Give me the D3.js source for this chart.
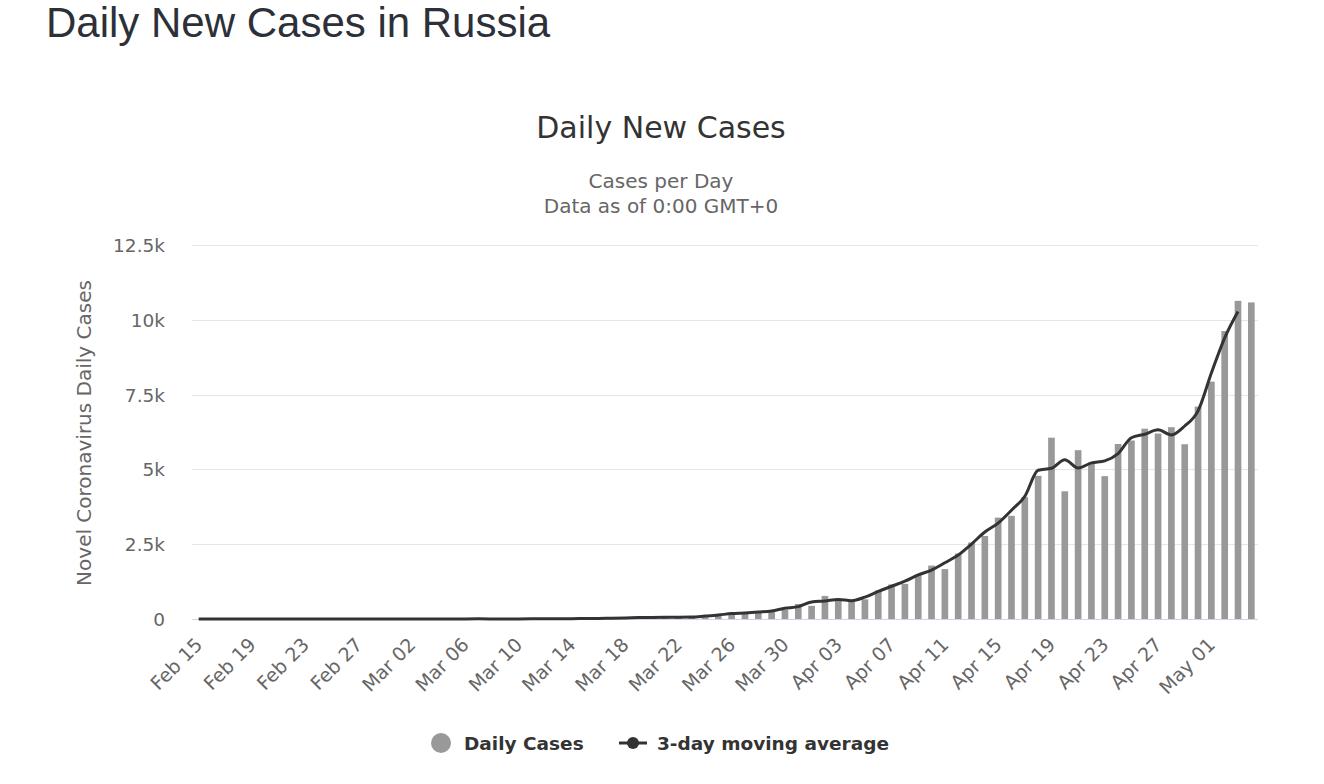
<!DOCTYPE html>
<html>
<head>
<meta charset="utf-8">
<script src="https://cdn.jsdelivr.net/npm/d3@7"></script>
<style>
  body { margin: 0; background: #fff; }
  svg { display: block; }
</style>
</head>
<body>
<div id="chart"></div>
<script>
// dates shown on the x axis (Feb 15 .. May 04)
var dates = [
  "Feb 15","Feb 16","Feb 17","Feb 18","Feb 19","Feb 20","Feb 21","Feb 22","Feb 23","Feb 24",
  "Feb 25","Feb 26","Feb 27","Feb 28","Feb 29","Mar 01","Mar 02","Mar 03","Mar 04","Mar 05",
  "Mar 06","Mar 07","Mar 08","Mar 09","Mar 10","Mar 11","Mar 12","Mar 13","Mar 14","Mar 15",
  "Mar 16","Mar 17","Mar 18","Mar 19","Mar 20","Mar 21","Mar 22","Mar 23","Mar 24","Mar 25",
  "Mar 26","Mar 27","Mar 28","Mar 29","Mar 30","Mar 31","Apr 01","Apr 02","Apr 03","Apr 04",
  "Apr 05","Apr 06","Apr 07","Apr 08","Apr 09","Apr 10","Apr 11","Apr 12","Apr 13","Apr 14",
  "Apr 15","Apr 16","Apr 17","Apr 18","Apr 19","Apr 20","Apr 21","Apr 22","Apr 23","Apr 24",
  "Apr 25","Apr 26","Apr 27","Apr 28","Apr 29","Apr 30","May 01","May 02","May 03","May 04"
];

// daily new cases
var dailyCases = [
  0,0,0,0,0,0,0,0,0,0,
  0,0,0,0,0,0,1,0,0,1,
  6,4,3,0,3,8,6,11,14,4,
  30,21,33,52,54,53,61,71,57,163,
  182,196,228,270,302,501,440,771,601,582,
  658,954,1154,1175,1459,1786,1667,2186,2558,2774,
  3388,3448,4070,4785,6060,4268,5642,5236,4774,5849,
  5966,6361,6198,6411,5841,7099,7933,9623,10633,10581
];

// 3-day moving average (Feb 15 .. May 03)
var movingAvg = [
  0,0,0,0,0,0,0,0,0,0,
  0,0,0,0,0,0.3,0.3,0.3,0.3,2.3,
  3.7,4.3,2.3,2,3.7,5.7,8.3,10.3,9.7,16,
  18.3,28,35.3,46.3,53,56,61.7,63,97,134,
  180.3,202,231.3,266.7,357.7,414.3,570.7,604,651.3,613.7,
  731.3,922,1094.3,1262.7,1473.3,1637.3,1879.7,2137,2506,2906.7,
  3203.3,3635.3,4101,4971.7,5037.7,5323.3,5048.7,5217.3,5286.3,5529.7,
  6058.7,6175,6323.3,6150,6450.3,6957.7,8218.3,9396.3,10279
];

var yTicks = [0, 2500, 5000, 7500, 10000, 12500];
var yTickLabels = ["0", "2.5k", "5k", "7.5k", "10k", "12.5k"];

//Width and height
var w = 1324;
var h = 784;
//plot area
var plotLeft = 192, plotRight = 1258, plotTop = 245, plotBottom = 619;

var svg = d3.select("#chart")
    .append("svg")
    .attr("width", w)
    .attr("height", h);

var font = "'DejaVu Sans', Verdana, sans-serif";

// page heading
svg.append("text")
    .text("Daily New Cases in Russia")
    .attr("x", 46)
    .attr("y", 37)
    .attr("font-family", "'Liberation Sans', Arial, sans-serif")
    .attr("font-size", 42)
    .style("fill", "#2d3038");

// chart title and subtitle
svg.append("text")
    .text("Daily New Cases")
    .attr("x", 661)
    .attr("y", 138)
    .attr("font-family", font)
    .attr("font-size", 30)
    .style("fill", "#333")
    .style("text-anchor", "middle");

svg.append("text")
    .text("Cases per Day")
    .attr("x", 661)
    .attr("y", 188)
    .attr("font-family", font)
    .attr("font-size", 20)
    .style("fill", "#666")
    .style("text-anchor", "middle");

svg.append("text")
    .text("Data as of 0:00 GMT+0")
    .attr("x", 661)
    .attr("y", 213)
    .attr("font-family", font)
    .attr("font-size", 20)
    .style("fill", "#666")
    .style("text-anchor", "middle");

var x = d3.scaleBand()
    .domain(dates)
    .range([plotLeft, plotRight])
    .paddingInner(0.5)
    .paddingOuter(0.25);

var xCenter = d3.scaleBand().domain(dates).range([plotLeft, plotRight]);

var y = d3.scaleLinear()
    .domain([0, 12500])
    .range([plotBottom, plotTop]);

// grid lines
svg.append("g")
    .selectAll("line")
    .data(yTicks)
    .enter()
    .append("line")
    .attr("x1", plotLeft)
    .attr("x2", plotRight)
    .attr("y1", function (d) { return Math.round(y(d)) + 0.5; })
    .attr("y2", function (d) { return Math.round(y(d)) + 0.5; })
    .style("stroke", "#e6e6e6")
    .style("stroke-width", 1);

// y labels
svg.append("g")
    .selectAll("text")
    .data(yTicks)
    .enter()
    .append("text")
    .text(function (d, i) { return yTickLabels[i]; })
    .attr("x", 165)
    .attr("y", function (d) { return y(d) + 7; })
    .attr("font-family", font)
    .attr("font-size", 18.5)
    .style("fill", "#666")
    .style("text-anchor", "end");

// y axis title
svg.append("text")
    .text("Novel Coronavirus Daily Cases")
    .attr("transform", "translate(91,433) rotate(-90)")
    .attr("font-family", font)
    .attr("font-size", 20)
    .style("fill", "#666")
    .style("text-anchor", "middle");

// bars
svg.append("g")
    .selectAll("rect")
    .data(dailyCases)
    .enter()
    .append("rect")
    .attr("x", function (d, i) { return x(dates[i]); })
    .attr("y", function (d) { return y(d); })
    .attr("width", x.bandwidth())
    .attr("height", function (d) { return plotBottom - y(d); })
    .style("fill", "#999");

// x axis line
svg.append("line")
    .attr("x1", plotLeft)
    .attr("x2", plotRight)
    .attr("y1", plotBottom + 0.5)
    .attr("y2", plotBottom + 0.5)
    .style("stroke", "#ccd6eb")
    .style("stroke-width", 1);

// x labels, every 4th day
svg.append("g")
    .selectAll("text")
    .data(dates.filter(function (d, i) { return i % 4 === 0; }))
    .enter()
    .append("text")
    .text(function (d) { return d; })
    .attr("transform", function (d) {
        var cx = xCenter(d) + xCenter.bandwidth() / 2 + 5;
        return "translate(" + cx + ",646) rotate(-45)";
    })
    .attr("font-family", font)
    .attr("font-size", 19)
    .style("fill", "#666")
    .style("text-anchor", "end");

// moving average line
var line = d3.line()
    .x(function (d, i) { return xCenter(dates[i]) + xCenter.bandwidth() / 2; })
    .y(function (d) { return y(d); })
    .curve(d3.curveMonotoneX);

svg.append("path")
    .datum(movingAvg)
    .attr("d", line)
    .style("fill", "none")
    .style("stroke", "#333")
    .style("stroke-width", 3)
    .style("stroke-linejoin", "round");

// legend
var legend = svg.append("g");

legend.append("circle")
    .attr("cx", 441)
    .attr("cy", 743)
    .attr("r", 10)
    .style("fill", "#999");

legend.append("text")
    .text("Daily Cases")
    .attr("x", 464)
    .attr("y", 750)
    .attr("font-family", font)
    .attr("font-size", 18.5)
    .attr("font-weight", "bold")
    .style("fill", "#333");

legend.append("line")
    .attr("x1", 619)
    .attr("x2", 647)
    .attr("y1", 743)
    .attr("y2", 743)
    .style("stroke", "#333")
    .style("stroke-width", 3);

legend.append("circle")
    .attr("cx", 633)
    .attr("cy", 743)
    .attr("r", 6)
    .style("fill", "#333");

legend.append("text")
    .text("3-day moving average")
    .attr("x", 657)
    .attr("y", 750)
    .attr("font-family", font)
    .attr("font-size", 18.5)
    .attr("font-weight", "bold")
    .style("fill", "#333");
</script>
</body>
</html>
